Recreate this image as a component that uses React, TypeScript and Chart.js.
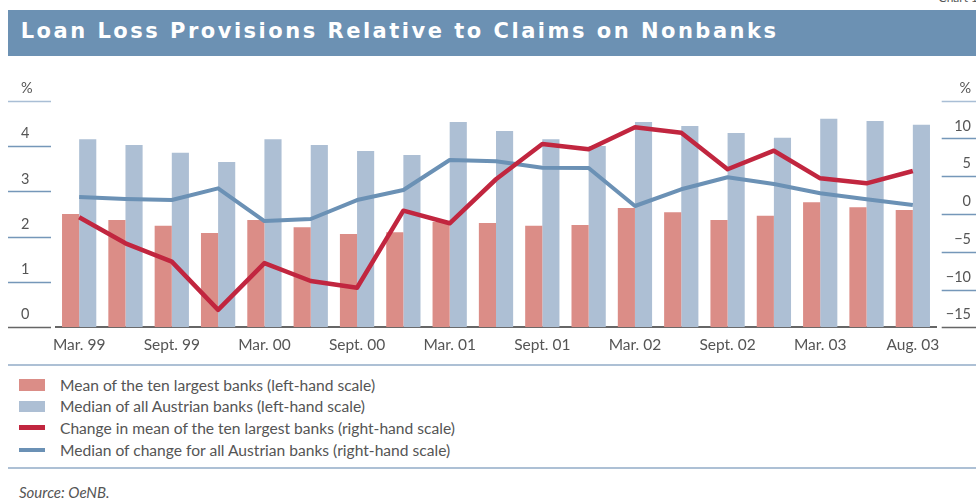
import React, { useEffect, useRef } from "react";
import { Chart, registerables } from "chart.js";

Chart.register(...registerables);

const categories = [
  "Mar. 99", "June 99", "Sept. 99", "Dec. 99",
  "Mar. 00", "June 00", "Sept. 00", "Dec. 00",
  "Mar. 01", "June 01", "Sept. 01", "Dec. 01",
  "Mar. 02", "June 02", "Sept. 02", "Dec. 02",
  "Mar. 03", "June 03", "Aug. 03",
];

// left-hand scale, %
const meanTenLargest = [2.5, 2.37, 2.24, 2.08, 2.37, 2.21, 2.06, 2.1, 2.33, 2.3, 2.24, 2.26, 2.63, 2.54, 2.37, 2.46, 2.76, 2.65, 2.59];
const medianAllAustrian = [4.15, 4.02, 3.85, 3.65, 4.15, 4.02, 3.89, 3.8, 4.53, 4.33, 4.15, 4.0, 4.53, 4.44, 4.29, 4.18, 4.6, 4.55, 4.47];

// right-hand scale, %
const changeMeanTenLargest = [-0.44, -3.88, -6.3, -12.7, -6.5, -8.87, -9.76, 0.44, -1.23, 4.6, 9.27, 8.56, 11.48, 10.77, 5.92, 8.38, 4.72, 4.06, 5.69];
const medianChangeAll = [2.25, 2.0, 1.85, 3.4, -0.93, -0.66, 1.85, 3.18, 7.15, 6.97, 6.13, 6.09, 1.06, 3.27, 4.86, 3.97, 2.74, 1.95, 1.19];

const leftMin = 0, leftMax = 5, leftStep = 1;
const rightMin = -15, rightMax = 15, rightStep = 5;

const seriesNames = [
  "Mean of the ten largest banks (left-hand scale)",
  "Median of all Austrian banks (left-hand scale)",
  "Change in mean of the ten largest banks (right-hand scale)",
  "Median of change for all Austrian banks (right-hand scale)",
];

const PINK = "#db8d87";
const LIGHTBLUE = "#adbfd4";
const RED = "#c1263f";
const BLUE = "#6b91b5";
const RULE = "#adc0d5";
const TEXT = "#555555";
const FONT = "Lato, 'Open Sans', sans-serif";

const tickLinePlugin = {
  id: "tickLines",
  afterDraw(chart: any) {
    const ctx = chart.ctx;
    const drawFor = (scale: any, x1: number, x2: number) => {
      const n = scale.ticks.length;
      scale.ticks.forEach((t: any, i: number) => {
        const y = Math.round(scale.getPixelForValue(t.value)) + 0.5;
        ctx.save();
        ctx.beginPath();
        ctx.lineWidth = 1.5;
        ctx.strokeStyle = i === 0 ? "#666666" : i === n - 1 ? "#a9bed5" : "#7597b9";
        ctx.moveTo(x1, y);
        ctx.lineTo(x2, y);
        ctx.stroke();
        ctx.restore();
      });
    };
    drawFor(chart.scales.yLeft, 0, 43);
    drawFor(chart.scales.yRight, chart.width - 34.3, chart.width);
  },
};

export default function App() {
  const ref = useRef<HTMLCanvasElement | null>(null);

  useEffect(() => {
    document.documentElement.style.overflow = "hidden";
    document.body.style.margin = "0";
    if (!ref.current) return;
    const chart = new Chart(ref.current, {
      type: "bar",
      data: {
        labels: categories,
        datasets: [
          {
            type: "line",
            label: seriesNames[2],
            data: changeMeanTenLargest,
            yAxisID: "yRight",
            borderColor: RED,
            borderWidth: 4.5,
            pointRadius: 0,
            tension: 0,
            borderJoinStyle: "round",
            order: 0,
          } as any,
          {
            type: "line",
            label: seriesNames[3],
            data: medianChangeAll,
            yAxisID: "yRight",
            borderColor: BLUE,
            borderWidth: 4,
            pointRadius: 0,
            tension: 0,
            borderJoinStyle: "round",
            order: 1,
          } as any,
          {
            type: "bar",
            label: seriesNames[0],
            data: meanTenLargest,
            yAxisID: "yLeft",
            backgroundColor: PINK,
            borderWidth: 0,
            barPercentage: 1,
            categoryPercentage: 0.74,
            order: 2,
          },
          {
            type: "bar",
            label: seriesNames[1],
            data: medianAllAustrian,
            yAxisID: "yLeft",
            backgroundColor: LIGHTBLUE,
            borderWidth: 0,
            barPercentage: 1,
            categoryPercentage: 0.74,
            order: 3,
          },
        ],
      },
      options: {
        responsive: false,
        animation: false,
        devicePixelRatio: 1,
        layout: { padding: { top: 40.7, left: 13, right: 5, bottom: 0 } },
        plugins: {
          legend: { display: false },
          title: { display: false },
          tooltip: { enabled: false },
        },
        scales: {
          x: {
            type: "category",
            offset: true,
            grid: { display: false, drawTicks: false },
            border: { display: true, color: "#666666", width: 2 },
            ticks: {
              autoSkip: false,
              maxRotation: 0,
              padding: 8.5,
              color: TEXT,
              font: { family: FONT, size: 15.5 },
              callback: (_v: any, i: number) => (i % 2 === 0 ? categories[i] : ""),
            },
            afterFit: (s: any) => {
              s.height = 32.7;
            },
          },
          yLeft: {
            type: "linear",
            position: "left",
            min: leftMin,
            max: leftMax,
            grid: { display: false, drawTicks: false },
            border: { display: false },
            ticks: {
              stepSize: leftStep,
              crossAlign: "far",
              labelOffset: -12.5,
              padding: 0,
              color: TEXT,
              font: { family: FONT, size: 14.5 },
              callback: (v: any) => (v === leftMax ? "%" : String(v)),
            },
            afterFit: (s: any) => {
              s.width = 35;
            },
          },
          yRight: {
            type: "linear",
            position: "right",
            min: rightMin,
            max: rightMax,
            grid: { display: false, drawTicks: false },
            border: { display: false },
            ticks: {
              stepSize: rightStep,
              crossAlign: "far",
              labelOffset: -12.5,
              padding: 0,
              color: TEXT,
              font: { family: FONT, size: 14.5 },
              callback: (v: any) =>
                v === rightMax ? "%" : v < 0 ? "\u2212" + Math.abs(v) : String(v),
            },
            afterFit: (s: any) => {
              s.width = 35;
            },
          },
        },
      } as any,
      plugins: [tickLinePlugin],
    });
    return () => chart.destroy();
  }, []);

  const legendItems = [
    { name: seriesNames[0], color: PINK, h: 11.4, center: 377 },
    { name: seriesNames[1], color: LIGHTBLUE, h: 11.4, center: 398.3 },
    { name: seriesNames[2], color: RED, h: 4.6, center: 419.7 },
    { name: seriesNames[3], color: BLUE, h: 4.4, center: 441.8 },
  ];

  return (
    <div style={{ position: "relative", width: 976, height: 503, overflow: "hidden", fontFamily: FONT, background: "#ffffff" }}>
      <div style={{ position: "absolute", left: 8, top: 8, width: 968, height: 495 }}>
        <div
          style={{
            position: "absolute",
            right: -2,
            top: -17,
            fontSize: 12,
            lineHeight: "14px",
            color: TEXT,
            whiteSpace: "nowrap",
          }}
        >
          Chart 1
        </div>
        <div
          style={{
            position: "absolute",
            left: 0,
            top: 2,
            width: 968,
            height: 46,
            background: "#6c91b3",
          }}
        >
          <div
            style={{
              position: "absolute",
              left: 12.7,
              top: 0,
              height: 42,
              lineHeight: "42px",
              color: "#ffffff",
              fontFamily: "'DejaVu Sans', sans-serif",
              fontWeight: 700,
              fontSize: 21,
              letterSpacing: 2.5,
              whiteSpace: "nowrap",
            }}
          >
            Loan Loss Provisions Relative to Claims on Nonbanks
          </div>
        </div>
        <canvas
          ref={ref}
          width={968}
          height={300}
          style={{ position: "absolute", left: 0, top: 52, width: 968, height: 300, display: "block" }}
        />
        <div style={{ position: "absolute", left: 0, top: 355.5, width: 968, height: 2.2, background: RULE }} />
        {legendItems.map((it, i) => (
          <div key={i}>
            <div
              style={{
                position: "absolute",
                left: 11.3,
                top: it.center - it.h / 2,
                width: 25.7,
                height: it.h,
                background: it.color,
              }}
            />
            <div
              style={{
                position: "absolute",
                left: 52,
                top: it.center - 11,
                height: 22,
                lineHeight: "22px",
                fontSize: 15.6,
                color: TEXT,
                whiteSpace: "nowrap",
              }}
            >
              {it.name}
            </div>
          </div>
        ))}
        <div style={{ position: "absolute", left: 0, top: 459.3, width: 968, height: 2.2, background: RULE }} />
        <div
          style={{
            position: "absolute",
            left: 11,
            top: 483.7 - 11,
            height: 22,
            lineHeight: "22px",
            fontSize: 15,
            fontStyle: "italic",
            color: TEXT,
            whiteSpace: "nowrap",
          }}
        >
          Source: OeNB.
        </div>
      </div>
    </div>
  );
}
